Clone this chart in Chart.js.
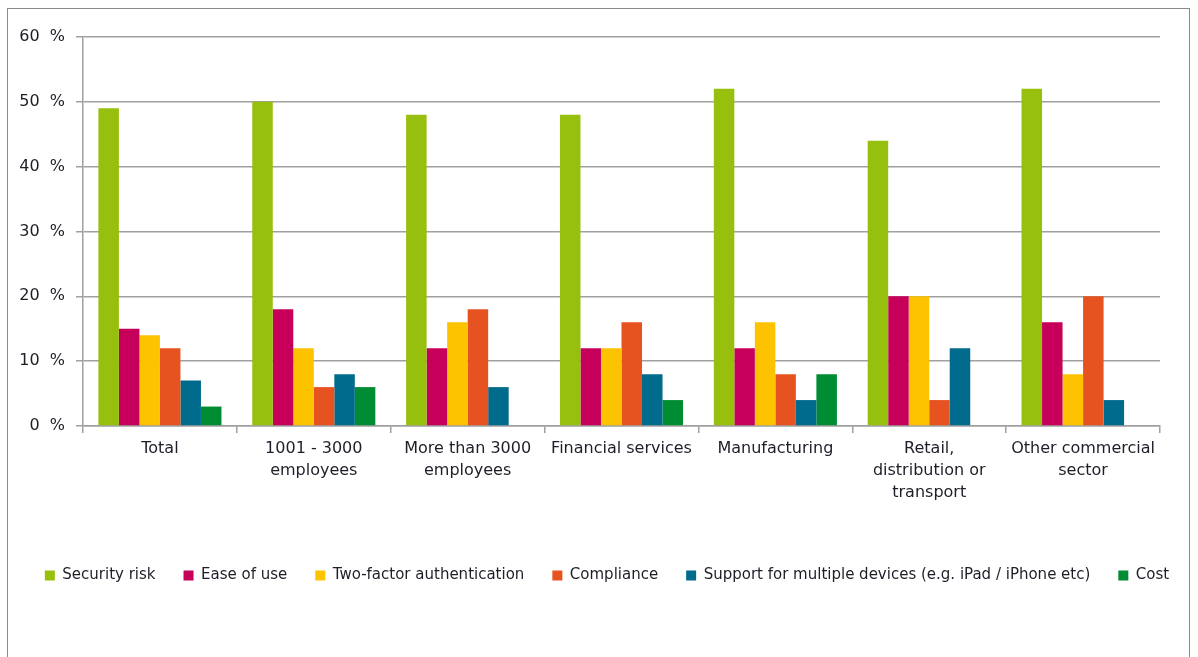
<!DOCTYPE html>
<html>
<head>
<meta charset="utf-8">
<script src="https://cdn.jsdelivr.net/npm/chart.js@4/dist/chart.umd.min.js"></script>
<style>
  html, body { margin: 0; padding: 0; background: #fff; overflow: hidden; }
  #wrap { position: relative; width: 1198px; height: 657px; }
  #frame { position: absolute; left: 7px; top: 8px; width: 1183px; height: 700px;
           border: 1px solid #8a8a8a; box-sizing: border-box; pointer-events: none; }
  canvas { position: absolute; left: 0; top: 0; }
</style>
</head>
<body>
<div id="wrap">
  <canvas id="chart" width="1198" height="657"></canvas>
  <div id="frame"></div>
</div>
<script>
// Segments surveyed
const categories = [
  "Total",
  ["1001 - 3000", "employees"],
  ["More than 3000", "employees"],
  "Financial services",
  "Manufacturing",
  ["Retail,", "distribution or", "transport"],
  ["Other commercial", "sector"]
];

// Share of respondents per reason (%)
const securityRisk   = [49, 50, 48, 48, 52, 44, 52];
const easeOfUse      = [15, 18, 12, 12, 12, 20, 16];
const twoFactorAuth  = [14, 12, 16, 12, 16, 20, 8];
const compliance     = [12, 6, 18, 16, 8, 4, 20];
const multiDevice    = [7, 8, 6, 8, 4, 12, 4];
const cost           = [3, 6, 0, 4, 8, 0, 0];

const seriesNames = [
  "Security risk",
  "Ease of use",
  "Two-factor authentication",
  "Compliance",
  "Support for multiple devices (e.g. iPad / iPhone etc)",
  "Cost"
];

const yTicks = [0, 10, 20, 30, 40, 50, 60];

const seriesValues = [securityRisk, easeOfUse, twoFactorAuth, compliance, multiDevice, cost];
const seriesColors = ["#97BF0D", "#C6005A", "#FDC300", "#E65321", "#006B8C", "#008C32"];

const gridGray = "#a0a0a0";
const textColor = "#1e1e28";

new Chart(document.getElementById("chart"), {
  type: "bar",
  data: {
    labels: categories,
    datasets: seriesValues.map((vals, i) => ({
      label: seriesNames[i],
      data: vals,
      backgroundColor: seriesColors[i],
      borderWidth: 0,
      categoryPercentage: 0.8,
      barPercentage: 1.0,
      yAxisID: "y"
    }))
  },
  options: {
    responsive: false,
    animation: false,
    devicePixelRatio: 1,
    layout: { padding: { left: 16, right: 0, top: 37, bottom: 64 } },
    plugins: {
      tooltip: { enabled: false },
      legend: {
        position: "bottom",
        labels: {
          boxWidth: 10,
          boxHeight: 10,
          padding: 28,
          color: textColor,
          font: { family: "'DejaVu Sans'", size: 15 }
        }
      }
    },
    scales: {
      x: {
        offset: true,
        grid: {
          display: true,
          drawOnChartArea: false,
          offset: true,
          tickLength: 7,
          color: gridGray,
          lineWidth: 1.5
        },
        border: { display: true, color: gridGray, width: 1.5 },
        ticks: {
          color: textColor,
          padding: 5,
          maxRotation: 0,
          autoSkip: false,
          font: { family: "'DejaVu Sans'", size: 16, lineHeight: 1.36 }
        },
        afterFit: (scale) => { scale.height = 114; }
      },
      y: {
        position: "left",
        min: yTicks[0],
        max: yTicks[yTicks.length - 1],
        afterBuildTicks: (scale) => { scale.ticks = yTicks.map(v => ({ value: v })); },
        grid: {
          color: gridGray,
          lineWidth: 1.5,
          tickLength: 7
        },
        border: { display: true, color: gridGray, width: 1.5 },
        ticks: {
          color: textColor,
          padding: 11,
          font: { family: "'DejaVu Sans'", size: 16 },
          callback: (v) => v + "  %"
        },
        afterFit: (scale) => { scale.width = 67; }
      },
      yRight: {
        position: "right",
        display: true,
        grid: { display: false },
        border: { display: false },
        ticks: { display: false },
        afterFit: (scale) => { scale.width = 38; }
      }
    }
  }
});
</script>
</body>
</html>
